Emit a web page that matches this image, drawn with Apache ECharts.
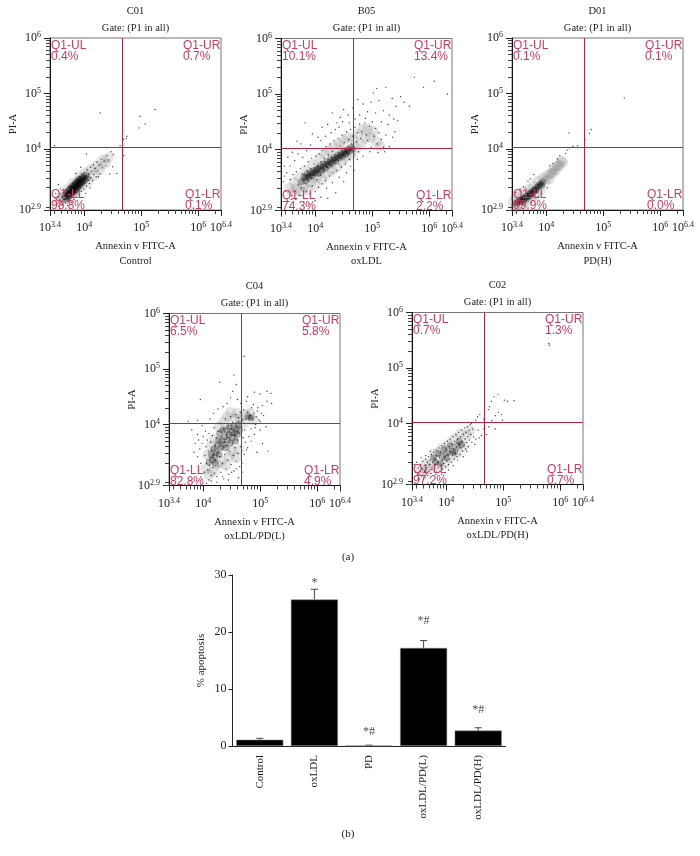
<!DOCTYPE html>
<html>
<head>
<meta charset="utf-8">
<style>html,body{margin:0;background:#fff}#main{width:700px;height:856px}</style>
<script src="https://cdn.jsdelivr.net/npm/echarts@6/dist/echarts.min.js"></script>
</head>
<body>
<div id="main"></div>
<script>
// all flow plot points are log10 of the fluorescence
var c01Core = [[3.66,3.14],[3.68,3.2],[3.69,3.1],[3.7,3.17],[3.71,3.23],[3.72,3.13],[3.73,3.19],[3.74,3.27],[3.75,3.16],[3.76,3.22],[3.77,3.29],[3.78,3.2],[3.78,3.26],[3.79,3.33],[3.8,3.24],[3.81,3.3],[3.82,3.21],[3.82,3.36],[3.83,3.27],[3.84,3.33],[3.85,3.39],[3.85,3.25],[3.86,3.31],[3.87,3.36],[3.88,3.42],[3.88,3.29],[3.89,3.35],[3.9,3.4],[3.91,3.46],[3.91,3.33],[3.92,3.38],[3.93,3.44],[3.94,3.36],[3.95,3.42],[3.96,3.48],[3.97,3.4],[3.98,3.46],[4.0,3.5],[4.01,3.43],[4.03,3.52],[4.05,3.47]];
var c01Halo = [[3.55,3.06],[3.6,3.13],[3.65,3.08],[3.7,3.27],[3.74,3.1],[3.8,3.38],[3.86,3.2],[3.92,3.5],[3.96,3.32],[4.02,3.57],[4.07,3.42],[4.12,3.63],[4.17,3.52],[4.22,3.7],[4.27,3.63],[4.32,3.8],[4.37,3.74],[4.42,3.84]];
var c01Stray = [[4.28,4.65],[5.24,4.71],[4.98,4.59],[5.07,4.45],[4.96,4.38],[4.75,4.23],[4.74,4.19],[4.69,4.17],[4.63,4.06],[3.48,4.06],[4.69,3.88],[4.57,3.56],[4.04,3.91],[3.55,3.36],[3.58,3.28],[3.5,3.2],[3.85,3.56],[3.94,3.67],[4.02,3.2],[4.1,3.3],[4.25,3.5],[4.47,3.95],[4.51,3.9],[4.5,3.68],[4.45,3.55],
[3.52,3.02],[3.54,3.13],[3.56,2.97],[3.57,3.08],[3.59,3.19],[3.6,3.04],[3.61,3.15],[3.63,2.99],[3.63,3.21],[3.65,3.09],[3.66,3.17],[3.67,3.03],[3.68,3.27],[3.69,3.12],[3.7,3.21],[3.71,2.98],[3.72,3.31],[3.73,3.08],[3.74,3.16],[3.75,3.24],[3.76,3.34],[3.77,3.04],[3.78,3.13],[3.79,3.28],[3.8,3.38],[3.81,3.19],[3.82,3.09],[3.83,3.31],[3.84,3.42],[3.85,3.22],[3.86,3.35],[3.87,3.13],[3.88,3.46],[3.89,3.28],[3.9,3.37],[3.91,3.18],[3.92,3.5],[3.93,3.31],[3.94,3.43],[3.95,3.24],[3.96,3.55],[3.97,3.35],[3.98,3.47],[3.99,3.28],[4.0,3.58],[4.01,3.39],[4.03,3.51],[4.04,3.33],[4.05,3.62],[4.07,3.44],[4.08,3.55],[4.09,3.38],[4.11,3.67],[4.12,3.48],[4.13,3.6],[4.15,3.43],[4.16,3.72],[4.17,3.54],[4.19,3.65],[4.21,3.5],[4.22,3.76],[4.24,3.6],[4.26,3.71],[4.28,3.55],[4.3,3.82],[4.32,3.66],[4.35,3.78],[4.38,3.7],[4.4,3.88],[4.43,3.8]];

var b05Core = [[3.76,3.42],[3.8,3.5],[3.83,3.44],[3.86,3.56],[3.89,3.49],[3.92,3.58],[3.95,3.52],[3.98,3.62],[4.01,3.57],[4.04,3.66],[4.06,3.57],[4.09,3.7],[4.12,3.62],[4.15,3.74],[4.18,3.66],[4.21,3.78],[4.24,3.71],[4.27,3.82],[4.3,3.75],[4.33,3.86],[4.36,3.79],[4.39,3.9],[4.42,3.84],[4.45,3.94],[4.48,3.88],[4.51,3.98],[4.54,3.92],[4.57,4.0],[4.6,3.97],[4.63,4.04],[4.66,4.01],[3.84,3.5],[3.9,3.53],[3.96,3.58],[4.02,3.62],[4.08,3.65],[4.14,3.69],[4.2,3.73],[4.26,3.77],[4.32,3.81],[4.38,3.85],[4.44,3.89],[4.5,3.93],[4.56,3.96]];
var b05Halo = [[3.55,3.3],[3.6,3.22],[3.63,3.4],[3.68,3.3],[3.72,3.5],[3.75,3.25],[3.8,3.33],[3.84,3.62],[3.87,3.28],[3.92,3.42],[3.96,3.72],[4.0,3.36],[4.03,3.5],[4.08,3.84],[4.12,3.46],[4.17,3.92],[4.2,3.56],[4.25,3.98],[4.29,3.62],[4.33,4.05],[4.38,3.68],[4.42,4.1],[4.47,3.78],[4.5,4.16],[4.54,3.86],[4.58,4.22],[4.63,3.9],[4.67,4.18],[4.72,4.02],[4.75,4.28],[4.8,4.1],[4.84,4.36],[4.88,4.2],[4.92,4.38],[4.97,4.22],[5.02,4.32],[5.08,4.14],[5.14,4.06]];
var b05Stray = [[6.09,5.23],[5.74,5.3],[6.32,5.0],[5.9,5.12],[5.5,4.95],[5.56,4.85],[5.65,4.78],[5.42,4.78],[5.35,4.92],[5.24,5.12],[5.08,5.1],[5.02,5.02],[4.98,4.85],[5.12,4.88],[5.2,4.7],[5.3,4.62],[5.38,4.55],[5.45,4.52],[5.28,4.45],[5.16,4.5],[5.06,4.66],[4.92,4.68],[4.84,4.82],[4.75,4.9],[4.66,4.75],[4.58,4.62],[4.5,4.72],[4.44,4.58],[4.38,4.48],[4.3,4.66],[4.22,4.45],[4.12,4.4],[4.05,4.22],[3.95,4.28],[3.82,4.48],[3.75,4.1],[3.68,4.15],[3.6,3.95],[3.52,3.86],[3.46,3.7],[3.5,3.58],[3.44,3.42],[3.48,3.25],[3.46,3.52],[3.56,3.7],[3.64,3.8],[3.7,3.92],[3.78,3.86],[3.85,3.98],[3.92,4.08],[4.0,4.02],[4.1,4.16],[4.18,4.24],[4.28,4.3],[4.35,4.36],[4.42,4.4],[4.48,4.5],[4.6,4.48],[4.7,4.55],[4.78,4.62],[4.88,4.56],[5.1,3.94],[5.22,3.96],[5.3,4.05],[5.36,4.22],[5.4,4.32],[4.96,3.96],[4.84,3.88],[4.74,3.82],[4.62,3.7],[4.55,3.58],[4.42,3.5],[4.3,3.4],[4.2,3.3],[4.1,3.14],[4.0,3.08],[3.9,3.02],[3.8,3.06],[4.22,3.12],[4.36,3.22],[4.5,3.42],[4.68,3.62],[3.66,3.1],[3.58,3.1],[3.5,3.06],
[3.56,3.46],[3.59,3.17],[3.61,3.55],[3.65,3.25],[3.67,3.6],[3.7,3.36],[3.72,3.18],[3.74,3.66],[3.76,3.3],[3.78,3.56],[3.79,3.16],[3.81,3.7],[3.83,3.38],[3.85,3.24],[3.86,3.62],[3.88,3.78],[3.89,3.42],[3.91,3.2],[3.92,3.66],[3.94,3.84],[3.95,3.34],[3.97,3.54],[3.98,3.74],[4.0,3.24],[4.01,3.88],[4.03,3.46],[4.04,3.7],[4.06,3.32],[4.07,3.92],[4.09,3.54],[4.1,3.78],[4.12,3.38],[4.13,3.98],[4.15,3.6],[4.16,3.84],[4.18,3.44],[4.19,4.05],[4.21,3.68],[4.23,3.9],[4.25,3.52],[4.26,4.1],[4.28,3.72],[4.3,3.96],[4.31,3.58],[4.33,4.16],[4.35,3.8],[4.37,4.02],[4.38,3.62],[4.4,4.2],[4.42,3.86],[4.44,4.06],[4.46,3.68],[4.47,4.26],[4.49,3.9],[4.51,4.12],[4.53,3.74],[4.55,4.32],[4.57,4.06],[4.59,4.18],[4.6,3.82],[4.62,4.36],[4.64,4.1],[4.66,4.24],[4.68,3.9],[4.7,4.4],[4.72,4.14],[4.74,4.3],[4.76,3.96],[4.78,4.46],[4.8,4.2],[4.82,4.32],[4.85,4.02],[4.87,4.48],[4.9,4.26],[4.92,4.16],[4.95,4.42],[4.98,4.04],[5.0,4.5],[5.03,4.24],[5.06,4.38],[5.09,4.1],[5.12,4.3],[5.16,4.18],[5.2,4.04],[5.24,4.26]];

var d01Core = [[3.47,3.02],[3.51,3.05],[3.54,3.07],[3.57,3.09],[3.6,3.11],[3.63,3.13],[3.66,3.15],[3.69,3.18],[3.72,3.2],[3.75,3.23],[3.78,3.25],[3.81,3.28],[3.84,3.31],[3.87,3.34],[3.9,3.37],[3.92,3.34],[3.94,3.4],[3.58,3.05],[3.64,3.09],[3.7,3.14],[3.76,3.19],[3.82,3.25]];
var d01Halo = [[3.42,3.04],[3.45,2.94],[3.47,3.13],[3.5,2.98],[3.54,3.17],[3.58,2.99],[3.62,3.22],[3.66,3.04],[3.7,3.28],[3.74,3.11],[3.78,3.33],[3.82,3.17],[3.86,3.42],[3.9,3.26],[3.94,3.47],[3.98,3.42],[4.02,3.52],[4.05,3.46],[4.08,3.56],[4.11,3.57],[4.14,3.64],[4.17,3.62],[4.2,3.7],[4.23,3.7],[4.26,3.78],[4.29,3.76]];
var d01Stray = [[5.37,4.92],[4.79,4.35],[4.76,4.28],[4.68,4.17],[4.4,4.29],[4.47,4.05],[4.4,4.02],[4.55,4.06],[4.34,3.92],[4.37,3.98],[4.2,3.82],[4.12,3.74],[4.06,3.7],[4.24,3.88],[3.72,3.46],[3.68,3.42],[3.78,3.54],[3.6,3.32],[3.54,3.28],[3.46,3.22],[3.86,3.14],[3.92,3.2],[4.02,3.3],
[3.5,3.08],[3.53,3.0],[3.56,3.12],[3.59,3.02],[3.62,3.15],[3.65,3.07],[3.67,3.2],[3.71,3.11],[3.74,3.25],[3.77,3.16],[3.8,3.3],[3.83,3.22],[3.86,3.36],[3.89,3.29]];

var c04Core = [[4.1,3.32],[4.14,3.46],[4.16,3.36],[4.18,3.56],[4.2,3.42],[4.21,3.3],[4.23,3.5],[4.25,3.62],[4.27,3.72],[4.28,3.46],[4.29,3.84],[4.31,3.58],[4.33,3.7],[4.34,3.9],[4.36,3.64],[4.38,3.78],[4.4,3.58],[4.41,3.9],[4.43,3.72],[4.45,3.82],[4.46,3.96],[4.48,3.66],[4.5,3.86],[4.52,3.76],[4.53,3.96],[4.55,3.84],[4.57,3.7],[4.58,3.92],[4.6,3.82],[4.62,4.0],[4.64,3.9],[4.79,4.14],[4.84,4.12]];
var c04Halo = [[4.05,3.2],[4.08,3.45],[4.1,3.1],[4.14,3.62],[4.18,3.16],[4.2,3.74],[4.25,3.28],[4.28,3.96],[4.32,3.34],[4.36,4.05],[4.4,3.26],[4.42,4.14],[4.46,3.42],[4.48,4.22],[4.5,3.52],[4.55,4.1],[4.58,3.4],[4.6,4.2],[4.62,3.55],[4.65,4.1],[4.7,4.02],[4.74,4.18],[4.82,4.2],[4.88,4.08]];
var c04Stray = [[4.72,5.23],[4.54,4.89],[4.29,4.76],[5.19,4.56],[5.12,4.6],[5.0,4.55],[4.9,4.58],[4.78,4.5],[4.58,4.72],[4.52,4.6],[4.48,4.48],[4.6,4.45],[4.66,4.38],[4.42,4.38],[4.35,4.32],[4.26,4.28],[4.18,4.2],[4.12,4.1],[4.06,4.02],[3.98,3.98],[3.9,4.07],[3.8,3.9],[3.74,4.06],[3.95,4.45],[3.9,3.82],[3.92,3.72],[3.86,3.66],[3.84,3.5],[3.9,3.42],[3.94,3.56],[3.98,3.66],[4.0,3.78],[4.04,3.88],[3.96,3.3],[3.92,3.18],[3.98,3.02],[4.06,2.94],[4.14,2.98],[4.24,2.96],[4.34,3.06],[4.44,3.0],[4.5,3.14],[4.58,3.2],[4.62,3.04],[4.68,3.3],[4.72,3.46],[4.78,3.58],[4.84,3.7],[4.9,3.82],[5.0,3.9],[5.1,3.96],[5.14,3.52],[5.04,3.66],[4.94,3.5],[4.88,4.36],[4.96,4.3],[5.04,4.34],[5.12,4.42],[5.2,4.38],[5.06,4.16],[4.98,4.08],[4.92,4.0],[4.8,3.78],[4.74,3.68],[4.76,4.42],[4.68,3.14],[4.1,3.0],
[4.02,3.14],[4.03,3.44],[4.05,3.6],[4.06,3.3],[4.07,3.72],[4.08,3.18],[4.09,3.52],[4.1,3.84],[4.11,3.26],[4.12,3.4],[4.13,3.68],[4.14,3.08],[4.15,3.54],[4.16,3.8],[4.17,3.22],[4.18,3.44],[4.19,3.94],[4.2,3.12],[4.21,3.62],[4.22,3.36],[4.23,3.76],[4.24,3.06],[4.25,3.5],[4.26,3.88],[4.27,3.24],[4.28,3.66],[4.29,3.42],[4.3,4.02],[4.31,3.14],[4.32,3.78],[4.33,3.56],[4.34,3.3],[4.35,3.92],[4.36,3.02],[4.37,3.68],[4.38,3.46],[4.39,4.1],[4.4,3.2],[4.41,3.82],[4.42,3.62],[4.43,3.36],[4.44,3.98],[4.45,3.1],[4.46,3.74],[4.47,3.52],[4.48,4.14],[4.49,3.28],[4.5,3.92],[4.51,3.66],[4.52,4.04],[4.53,3.44],[4.54,3.16],[4.55,3.8],[4.56,3.58],[4.57,4.18],[4.58,3.34],[4.59,3.98],[4.6,3.72],[4.61,3.48],[4.62,4.12],[4.63,3.84],[4.64,3.24],[4.65,4.22],[4.66,3.6],[4.67,3.96],[4.69,4.08],[4.7,3.76],[4.71,4.26],[4.73,3.9],[4.75,4.1],[4.76,3.54],[4.78,4.22],[4.8,4.02],[4.82,4.16],[4.84,3.92],[4.85,4.3],[4.87,4.1],[4.89,4.2],[4.91,3.94],[4.93,4.14],[4.95,4.24],[5.0,4.05],[5.02,4.2]];

var c02Core = [[3.78,3.38],[3.82,3.3],[3.86,3.46],[3.9,3.28],[3.93,3.4],[3.96,3.53],[4.0,3.38],[4.03,3.47],[4.07,3.6],[4.11,3.5],[4.15,3.48],[4.19,3.6],[4.23,3.68],[4.27,3.62]];
var c02Halo = [[3.55,3.14],[3.6,3.1],[3.64,3.26],[3.7,3.18],[3.75,3.3],[3.8,3.46],[3.85,3.2],[3.92,3.55],[3.98,3.28],[4.04,3.62],[4.08,3.4],[4.14,3.72],[4.2,3.48],[4.25,3.82],[4.3,3.6],[4.36,3.78],[4.42,3.88]];
var c02Stray = [[5.8,5.44],[5.81,5.41],[4.91,4.52],[5.19,4.41],[5.08,4.4],[5.02,4.42],[4.79,4.4],[4.84,4.48],[4.74,4.25],[4.76,4.3],[4.59,4.16],[4.55,4.12],[4.97,4.16],[4.92,4.2],[4.99,4.06],[4.86,4.14],[4.8,4.05],[4.66,4.08],[4.48,4.02],[4.52,4.06],[4.44,4.0],[4.71,3.8],[4.62,3.78],[4.56,3.88],[4.66,3.9],[4.75,3.94],[4.86,3.9],[4.58,3.74],[4.5,3.62],[4.52,3.72],[3.46,3.12],[3.44,3.26],[3.48,3.3],[3.56,3.38],[3.64,3.42],[3.72,3.5],[3.6,3.0],[3.72,3.02],[3.82,3.08],[3.92,3.08],[4.04,3.16],[4.12,3.24],[4.2,3.34],[4.3,3.4],[4.36,3.5],
[3.5,3.08],[3.51,3.2],[3.53,3.0],[3.54,3.14],[3.55,3.26],[3.57,3.06],[3.58,3.18],[3.59,3.32],[3.61,3.03],[3.62,3.14],[3.63,3.24],[3.64,3.36],[3.65,3.09],[3.66,3.2],[3.67,3.3],[3.68,3.06],[3.69,3.4],[3.7,3.14],[3.71,3.26],[3.72,3.34],[3.73,3.1],[3.74,3.44],[3.75,3.2],[3.76,3.3],[3.77,3.06],[3.78,3.48],[3.79,3.16],[3.8,3.36],[3.81,3.26],[3.82,3.52],[3.83,3.12],[3.84,3.42],[3.85,3.3],[3.86,3.2],[3.87,3.56],[3.88,3.38],[3.89,3.14],[3.9,3.48],[3.91,3.24],[3.92,3.6],[3.93,3.34],[3.94,3.18],[3.95,3.46],[3.96,3.28],[3.97,3.64],[3.98,3.4],[3.99,3.22],[4.0,3.54],[4.01,3.32],[4.02,3.68],[4.03,3.44],[4.04,3.26],[4.05,3.58],[4.06,3.36],[4.07,3.72],[4.08,3.5],[4.09,3.3],[4.1,3.62],[4.11,3.42],[4.12,3.76],[4.13,3.54],[4.14,3.36],[4.15,3.68],[4.16,3.46],[4.17,3.8],[4.18,3.58],[4.19,3.4],[4.2,3.72],[4.21,3.52],[4.22,3.84],[4.23,3.62],[4.24,3.44],[4.25,3.76],[4.26,3.56],[4.27,3.88],[4.28,3.68],[4.29,3.5],[4.3,3.8],[4.31,3.6],[4.32,3.92],[4.33,3.72],[4.34,3.54],[4.35,3.84],[4.36,3.66],[4.37,3.94],[4.38,3.76],[4.39,3.58],[4.4,3.88],[4.41,3.7],[4.42,3.98],[4.43,3.8],[4.45,3.66],[4.46,3.9],[4.48,3.76]];

var panelIds = ['C01', 'B05', 'D01', 'C04', 'C02'];
var panelNames = ['Control', 'oxLDL', 'PD(H)', 'oxLDL/PD(L)', 'oxLDL/PD(H)'];
var panelCore = [c01Core, b05Core, d01Core, c04Core, c02Core];
var panelHalo = [c01Halo, b05Halo, d01Halo, c04Halo, c02Halo];
var panelStray = [c01Stray, b05Stray, d01Stray, c04Stray, c02Stray];
var quadrantPercents = [
  ['0.4%', '0.7%', '98.8%', '0.1%'],
  ['10.1%', '13.4%', '74.3%', '2.2%'],
  ['0.1%', '0.1%', '99.9%', '0.0%'],
  ['6.5%', '5.8%', '82.8%', '4.9%'],
  ['0.7%', '1.3%', '97.2%', '0.7%']
];
var gateX = 4.655;
var gateY = 4.03;
var xTickLabels = [3.4, 4, 5, 6, 6.4];
var yTickLabels = [2.9, 4, 5, 6];
var minorTickValues = [800, 900, 2000, 3000, 4000, 5000, 6000, 7000, 8000, 9000, 20000, 30000, 40000, 50000, 60000, 70000, 80000, 90000, 200000, 300000, 400000, 500000, 600000, 700000, 800000, 900000, 2000000];

var barCategories = ['Control', 'oxLDL', 'PD', 'oxLDL/PD(L)', 'oxLDL/PD(H)'];
var barValues = [1.1, 25.7, 0.1, 17.2, 2.7];
var barErrorTops = [1.35, 27.5, 0.15, 18.5, 3.2];
var barMarks = ['', '*', '*#', '*#', '*#'];
var barMarkHeights = [0, 28.7, 2.4, 22, 6.4];

// plot boxes in pixels: left, top
var boxes = [[50, 38], [281, 38.5], [512, 38], [169, 313.5], [412, 312.5]];
var boxW = 171, boxH = 172;

var serif = '"Liberation Serif"';
var sans = '"Liberation Sans"';
var red = '#d1395c';
var lineRed = '#b81f45';

function powerLabel(v) {
  return '{b|10}{s|' + v + '}';
}
var powerRich = {
  b: { fontFamily: serif, fontSize: 12, color: '#222' },
  s: { fontFamily: serif, fontSize: 8, color: '#222', padding: [0, 0, 6, 0] }
};

function txt(x, y, text, font, fill, align) {
  return {
    type: 'text', x: x, y: y, z: 50, silent: true,
    style: { text: text, font: font, fill: fill, textAlign: align || 'center', textVerticalAlign: 'middle' }
  };
}

var grids = [], xAxes = [], yAxes = [], series = [], texts = [];
var logMinor = minorTickValues.map(function (v) { return Math.log10(v); });
var xMinor = logMinor.filter(function (v) { return v > 3.4 && v < 6.4; });
var yMinor = logMinor.filter(function (v) { return v > 2.9 && v < 6; });

panelIds.forEach(function (id, i) {
  var b = boxes[i];
  grids.push({
    left: b[0], top: b[1], width: boxW, height: boxH,
    show: true, borderColor: '#777', borderWidth: 1, backgroundColor: '#fff'
  });
  xAxes.push({
    type: 'value', gridIndex: i, min: 3.4, max: 6.4, position: 'bottom',
    name: 'Annexin v FITC-A', nameLocation: 'middle', nameGap: 31,
    nameTextStyle: { fontFamily: serif, fontSize: 10.5, color: '#222' },
    splitLine: { show: false },
    axisLine: { show: true, onZero: false, lineStyle: { color: '#111' } },
    axisTick: { show: true, length: 6, customValues: xTickLabels, lineStyle: { color: '#222' } },
    axisLabel: { customValues: xTickLabels, margin: 11, formatter: powerLabel, rich: powerRich }
  });
  xAxes.push({
    type: 'value', gridIndex: i, min: 3.4, max: 6.4, position: 'bottom',
    splitLine: { show: false }, axisLabel: { show: false },
    axisLine: { show: false, onZero: false },
    axisTick: { show: true, length: 4, customValues: xMinor, lineStyle: { color: '#444' } }
  });
  yAxes.push({
    type: 'value', gridIndex: i, min: 2.9, max: 6, position: 'left',
    name: 'PI-A', nameLocation: 'middle', nameRotate: 90, nameGap: 31, nameMoveOverlap: false,
    nameTextStyle: { fontFamily: serif, fontSize: 10.5, color: '#222' },
    splitLine: { show: false },
    axisLine: { show: true, onZero: false, lineStyle: { color: '#111' } },
    axisTick: { show: true, length: 6, customValues: yTickLabels, lineStyle: { color: '#222' } },
    axisLabel: { customValues: yTickLabels, margin: 9, formatter: powerLabel, rich: powerRich }
  });
  yAxes.push({
    type: 'value', gridIndex: i, min: 2.9, max: 6, position: 'left',
    splitLine: { show: false }, axisLabel: { show: false },
    axisLine: { show: false, onZero: false },
    axisTick: { show: true, length: 4, customValues: yMinor, lineStyle: { color: '#444' } }
  });

  var xi = i * 2, yi = i * 2;
  series.push({
    type: 'scatter', xAxisIndex: xi, yAxisIndex: yi, silent: true, animation: false,
    data: panelHalo[i], symbolSize: 11, itemStyle: { color: '#555', opacity: 0.16 }
  });
  series.push({
    type: 'scatter', xAxisIndex: xi, yAxisIndex: yi, silent: true, animation: false,
    data: panelCore[i], symbolSize: 7, itemStyle: { color: '#000', opacity: 0.3 }
  });
  series.push({
    type: 'scatter', xAxisIndex: xi, yAxisIndex: yi, silent: true, animation: false,
    data: panelStray[i], symbolSize: 1.4, itemStyle: { color: '#111', opacity: 0.8 },
    markLine: {
      silent: true, animation: false, symbol: 'none', label: { show: false },
      lineStyle: { color: lineRed, width: 1, type: 'solid' },
      data: [{ xAxis: gateX }, { yAxis: gateY }]
    }
  });

  var cx = b[0] + boxW / 2, p = quadrantPercents[i];
  var right = b[0] + boxW, bottom = b[1] + boxH;
  var qFont = '12px ' + sans, tFont = '10.5px ' + serif;
  texts.push(txt(cx, b[1] - 27, id, tFont, '#222'));
  texts.push(txt(cx, b[1] - 10, 'Gate: (P1 in all)', tFont, '#222'));
  texts.push(txt(cx, b[1] + 223, panelNames[i], tFont, '#222'));
  texts.push(txt(b[0] + 1, b[1] + 7.5, 'Q1-UL', qFont, red, 'left'));
  texts.push(txt(b[0] + 1, b[1] + 18.5, p[0], qFont, red, 'left'));
  texts.push(txt(right - 38, b[1] + 7.5, 'Q1-UR', qFont, red, 'left'));
  texts.push(txt(right - 38, b[1] + 18.5, p[1], qFont, red, 'left'));
  texts.push(txt(b[0] + 1, bottom - 15, 'Q1-LL', qFont, red, 'left'));
  texts.push(txt(b[0] + 1, bottom - 4, p[2], qFont, red, 'left'));
  texts.push(txt(right - 36, bottom - 15, 'Q1-LR', qFont, red, 'left'));
  texts.push(txt(right - 36, bottom - 4, p[3], qFont, red, 'left'));
});

// bar chart (b)
var barGrid = grids.length;
var barAxis = xAxes.length;
grids.push({ left: 232.5, top: 575, width: 273, height: 171 });
xAxes.push({
  type: 'category', gridIndex: barGrid, data: barCategories,
  axisLine: { lineStyle: { color: '#222' } },
  axisTick: { length: 4, lineStyle: { color: '#222' }, alignWithLabel: false },
  axisLabel: { rotate: 90, interval: 0, margin: 9, fontFamily: serif, fontSize: 11, color: '#222' }
});
yAxes.push({
  type: 'value', gridIndex: barGrid, min: 0, max: 30, interval: 10,
  name: '% apoptosis', nameLocation: 'middle', nameRotate: 90, nameGap: 26,
  nameTextStyle: { fontFamily: serif, fontSize: 11, color: '#222' },
  splitLine: { show: false },
  axisLine: { show: true, lineStyle: { color: '#222' } },
  axisTick: { show: true, length: 4, lineStyle: { color: '#222' } },
  axisLabel: { margin: 6, fontFamily: serif, fontSize: 12, color: '#222' }
});
series.push({
  type: 'custom', xAxisIndex: barAxis, yAxisIndex: barAxis, silent: true, animation: false, z: 1,
  data: barValues.map(function (v, i) { return [i, v, barErrorTops[i]]; }),
  encode: { x: 0, y: [1, 2] },
  renderItem: function (params, api) {
    var low = api.coord([api.value(0), api.value(1)]);
    var high = api.coord([api.value(0), api.value(2)]);
    var st = { stroke: '#444', lineWidth: 1 };
    return {
      type: 'group', children: [
        { type: 'line', shape: { x1: low[0], y1: low[1], x2: high[0], y2: high[1] }, style: st },
        { type: 'line', shape: { x1: low[0] - 3.5, y1: high[1], x2: low[0] + 3.5, y2: high[1] }, style: st }
      ]
    };
  }
});
series.push({
  type: 'bar', xAxisIndex: barAxis, yAxisIndex: barAxis, silent: true, animation: false, z: 2,
  data: barValues, barWidth: 47, itemStyle: { color: '#000', borderColor: '#888', borderWidth: 0.5 }
});
series.push({
  type: 'scatter', xAxisIndex: barAxis, yAxisIndex: barAxis, silent: true, animation: false,
  symbolSize: 0,
  data: barMarks.map(function (m, i) { return { value: [i, barMarkHeights[i]], mark: m }; }),
  label: {
    show: true, position: 'inside', fontFamily: serif, fontSize: 12, color: '#222',
    formatter: function (p) { return barMarks[p.dataIndex]; }
  }
});

texts.push(txt(348, 557, '(a)', '11px ' + serif, '#222'));
texts.push(txt(348, 834, '(b)', '11px ' + serif, '#222'));

var chart = echarts.init(document.getElementById('main'), null, { renderer: 'canvas' });
chart.setOption({
  animation: false,
  backgroundColor: '#fff',
  grid: grids,
  xAxis: xAxes,
  yAxis: yAxes,
  series: series,
  graphic: texts
});
</script>
</body>
</html>
